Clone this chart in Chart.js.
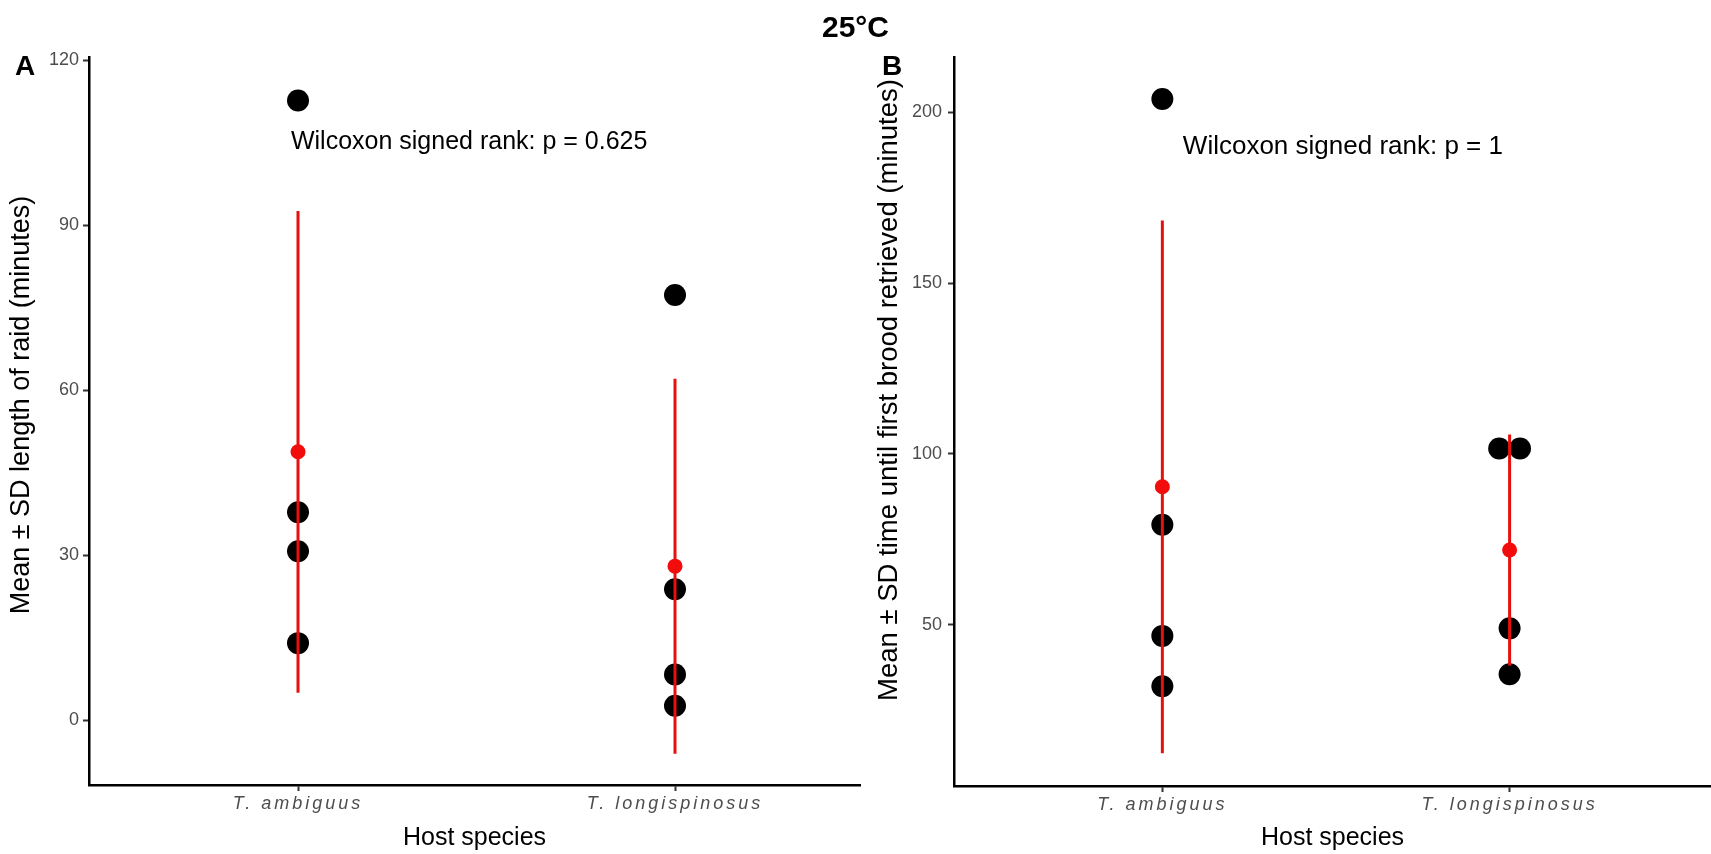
<!DOCTYPE html>
<html>
<head>
<meta charset="utf-8">
<script src="https://cdn.jsdelivr.net/npm/chart.js@4.4.1/dist/chart.umd.min.js"></script>
<style>
    body { margin: 0; background: #fff; width: 1711px; height: 854px; position: relative; overflow: hidden; font-family: 'Liberation Sans', Arial, sans-serif; }
    #title { position: absolute; left: 0; width: 1711px; top: 9px; text-align: center; font-weight: bold; font-size: 30px; line-height: 36px; }
    .tag { position: absolute; font-weight: bold; font-size: 28px; line-height: 28px; }
    canvas { position: absolute; top: 0; }
</style>
</head>
<body>
<canvas id="chartA" width="862" height="854" style="left:0"></canvas>
<canvas id="chartB" width="856" height="854" style="left:855px"></canvas>
<div id="title">25°C</div>
<div class="tag" style="left:15px; top:52px">A</div>
<div class="tag" style="left:882px; top:52px">B</div>
<script>
// Shared categories
const categories = ['T. ambiguus', 'T. longispinosus'];
const categoryX = [1, 2];

// Panel A - length of raid (minutes)
const raidAmbiguus = [112.7, 37.8, 30.7, 14.0];
const raidLongispinosus = [77.3, 23.8, 8.3, 2.6];
const raidMean = [48.8, 28.0];
const raidSD = [43.8, 34.1];
const raidTicks = [0, 30, 60, 90, 120];

// Panel B - time until first brood retrieved (minutes)
const broodAmbiguus = [203.8, 79.3, 46.8, 32.1];
const broodLongispinosus = [101.6, 101.6, 49.0, 35.6];
const broodLongJitter = [-0.03, 0.03, 0, 0];
const broodMean = [90.4, 71.9];
const broodSD = [77.9, 33.8];
const broodTicks = [50, 100, 150, 200];

const FONT = "'Liberation Sans', Arial, sans-serif";

// Text label placed in data coordinates
const notePlugin = {
    id: 'note',
    afterDatasetsDraw(chart, args, opts) {
        const { ctx, scales: { x, y } } = chart;
        ctx.save();
        ctx.font = opts.size + 'px ' + FONT;
        ctx.fillStyle = '#000';
        ctx.textAlign = 'center';
        ctx.textBaseline = 'middle';
        ctx.fillText(opts.text, x.getPixelForValue(opts.x), y.getPixelForValue(opts.y));
        ctx.restore();
    }
};

// Rotated y-axis title, placed by hand
const yTitlePlugin = {
    id: 'yTitle',
    afterDraw(chart, args, opts) {
        const ctx = chart.ctx;
        ctx.save();
        ctx.translate(opts.x, opts.y);
        ctx.rotate(-Math.PI / 2);
        ctx.font = opts.size + 'px ' + FONT;
        ctx.fillStyle = '#000';
        ctx.textAlign = 'center';
        ctx.textBaseline = 'middle';
        ctx.fillText(opts.text, 0, 0);
        ctx.restore();
    }
};

// Wider letter spacing for the italic species labels
const spacingPlugin = {
    id: 'spacing',
    afterUpdate(chart) {
        const s = chart.scales.x;
        if (s._spaced) return;
        const orig = s.drawLabels.bind(s);
        s.drawLabels = function(area) {
            this.ctx.save();
            this.ctx.letterSpacing = '3px';
            orig(area);
            this.ctx.restore();
        };
        s._spaced = true;
    }
};

function makePanel(id, cfg) {
    const pointsData = [];
    cfg.groups.forEach((vals, i) => {
        vals.forEach((v, j) => {
            const jit = cfg.jitter && cfg.jitter[i] ? cfg.jitter[i][j] : 0;
            pointsData.push({ x: categoryX[i] + jit, y: v });
        });
    });

    const datasets = [{
        data: pointsData,
        pointRadius: 11,
        backgroundColor: '#000',
        borderWidth: 0,
        order: 3
    }];

    cfg.mean.forEach((m, i) => {
        datasets.push({
            data: [{ x: categoryX[i], y: m - cfg.sd[i] }, { x: categoryX[i], y: m + cfg.sd[i] }],
            showLine: true,
            borderColor: '#e8100f',
            borderWidth: 3,
            pointRadius: 0,
            order: 2
        });
    });

    datasets.push({
        data: cfg.mean.map((m, i) => ({ x: categoryX[i], y: m })),
        pointRadius: 7.5,
        backgroundColor: '#f20c0c',
        borderWidth: 0,
        order: 1
    });

    new Chart(document.getElementById(id).getContext('2d'), {
        type: 'scatter',
        data: { datasets },
        options: {
            responsive: false,
            animation: false,
            devicePixelRatio: 1,
            layout: { autoPadding: false, padding: cfg.padding },
            scales: {
                x: {
                    type: 'linear',
                    min: cfg.xMin,
                    max: cfg.xMax,
                    afterBuildTicks: (s) => { s.ticks = categoryX.map(v => ({ value: v })); },
                    afterFit: (s) => { s.height = cfg.xHeight; },
                    ticks: {
                        callback: (v) => categories[categoryX.indexOf(v)],
                        font: { family: FONT, size: 18, style: 'italic' },
                        color: '#4d4d4d',
                        padding: 2,
                        maxRotation: 0,
                        autoSkip: false
                    },
                    grid: { display: true, drawOnChartArea: false, drawTicks: true, tickLength: 6, tickWidth: 2, tickColor: '#333' },
                    border: { display: true, color: '#000', width: 2.5 },
                    title: { display: true, text: 'Host species', color: '#000', font: { family: FONT, size: 25 }, padding: { top: 0, bottom: 1 } }
                },
                y: {
                    min: cfg.yMin,
                    max: cfg.yMax,
                    afterBuildTicks: (s) => { s.ticks = cfg.ticks.map(v => ({ value: v })); },
                    afterFit: (s) => { s.width = cfg.yWidth; },
                    ticks: {
                        font: { family: FONT, size: 18 },
                        color: '#4d4d4d',
                        padding: cfg.yTickPad
                    },
                    grid: { display: true, drawOnChartArea: false, drawTicks: true, tickLength: 6, tickWidth: 2, tickColor: '#333' },
                    border: { display: true, color: '#000', width: 2.5 }
                }
            },
            plugins: {
                legend: { display: false },
                tooltip: { enabled: false },
                note: cfg.note,
                yTitle: cfg.yTitle
            }
        },
        plugins: [notePlugin, yTitlePlugin, spacingPlugin]
    });
}

makePanel('chartA', {
    groups: [raidAmbiguus, raidLongispinosus],
    mean: raidMean,
    sd: raidSD,
    ticks: raidTicks,
    yMin: -11.8,
    yMax: 120.6,
    xMin: 0.4456,
    xMax: 2.4907,
    padding: { left: 0, top: 57, right: 2, bottom: 0 },
    yWidth: 89,
    xHeight: 69,
    yTickPad: 4,
    yTitle: { text: 'Mean ± SD length of raid (minutes)', x: 22, y: 405, size: 27 },
    note: { text: 'Wilcoxon signed rank: p = 0.625', x: 1.454, y: 105.1, size: 25 }
});

makePanel('chartB', {
    groups: [broodAmbiguus, broodLongispinosus],
    jitter: [null, broodLongJitter],
    mean: broodMean,
    sd: broodSD,
    ticks: broodTicks,
    yMin: 2.9,
    yMax: 216.1,
    xMin: 0.4,
    xMax: 2.58,
    padding: { left: 0, top: 57, right: 0, bottom: 0 },
    yWidth: 99,
    xHeight: 68,
    yTickPad: 6,
    yTitle: { text: 'Mean ± SD time until first brood retrieved (minutes)', x: 34, y: 390, size: 27.5 },
    note: { text: 'Wilcoxon signed rank: p = 1', x: 1.52, y: 189.8, size: 26 }
});
</script>
</body>
</html>
